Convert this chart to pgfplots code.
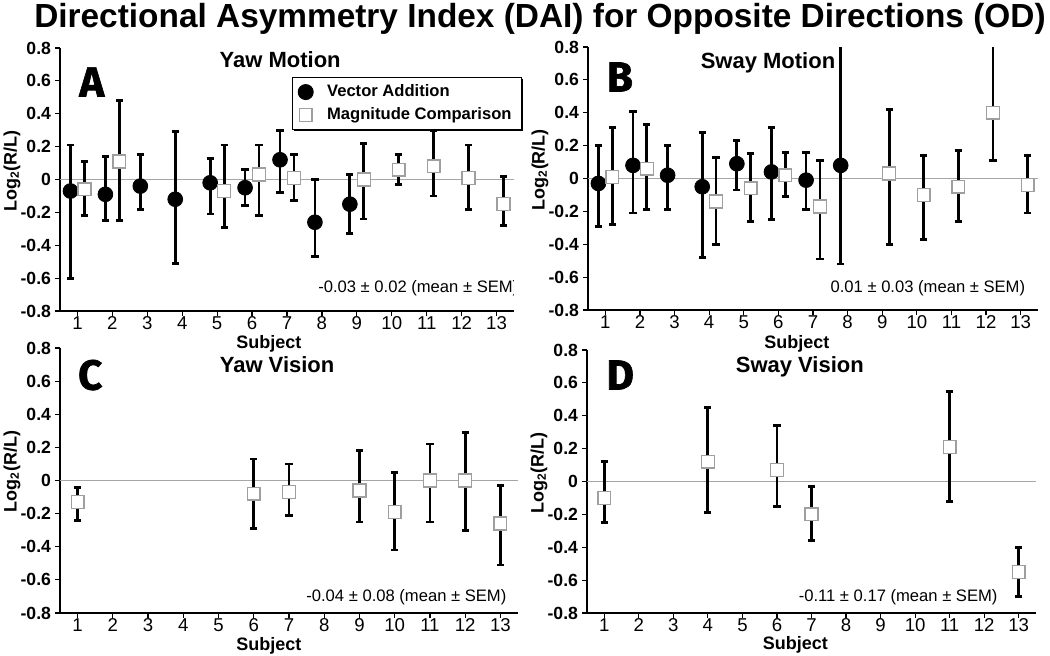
\documentclass[border=0pt]{standalone}
\usepackage{fontspec}
\setmainfont{Liberation Sans}
\newfontfamily\letterfont{Fira Sans}[BoldFeatures={FakeBold=1.5}]
\usepackage{pgfplots}
\usepackage{pgfplotstable}
\pgfplotsset{compat=1.18}
\usetikzlibrary{shadows}

% columns: x, value, error up, error down
\pgfplotstableread{
x y ep em
0.8 -0.07 0.28 0.53
1.8 -0.09 0.23 0.16
2.8 -0.04 0.19 0.14
3.8 -0.12 0.41 0.39
4.8 -0.02 0.15 0.19
5.8 -0.05 0.11 0.11
6.8 0.12 0.18 0.20
7.8 -0.26 0.26 0.21
8.8 -0.15 0.18 0.18
}\yawmotVA
\pgfplotstableread{
x y ep em
1.2 -0.06 0.17 0.16
2.2 0.11 0.37 0.36
5.2 -0.07 0.28 0.22
6.2 0.03 0.18 0.25
7.2 0.01 0.14 0.14
9.2 0.00 0.22 0.24
10.2 0.06 0.09 0.09
11.2 0.08 0.22 0.18
12.2 0.01 0.20 0.19
13.2 -0.15 0.17 0.13
}\yawmotMC
\pgfplotstableread{
x y ep em
0.8 -0.03 0.23 0.26
1.8 0.08 0.33 0.29
2.8 0.02 0.18 0.21
3.8 -0.05 0.33 0.43
4.8 0.09 0.14 0.16
5.8 0.04 0.27 0.29
6.8 -0.01 0.17 0.18
7.8 0.08 0.87 0.60
}\swaymotVA
\pgfplotstableread{
x y ep em
1.2 0.01 0.30 0.29
2.2 0.06 0.27 0.25
4.2 -0.14 0.27 0.26
5.2 -0.06 0.21 0.20
6.2 0.02 0.14 0.13
7.2 -0.17 0.28 0.32
9.2 0.03 0.39 0.43
10.2 -0.10 0.24 0.27
11.2 -0.05 0.22 0.21
12.2 0.40 0.50 0.29
13.2 -0.04 0.18 0.17
}\swaymotMC
\pgfplotstableread{
x y ep em
1 -0.13 0.09 0.11
6 -0.08 0.21 0.21
7 -0.07 0.17 0.14
9 -0.06 0.24 0.19
10 -0.19 0.24 0.23
11 0.00 0.22 0.25
12 0.00 0.29 0.30
13 -0.26 0.23 0.25
}\yawvisMC
\pgfplotstableread{
x y ep em
1 -0.10 0.22 0.15
4 0.12 0.33 0.31
6 0.07 0.27 0.22
7 -0.20 0.17 0.16
11 0.21 0.34 0.33
13 -0.55 0.15 0.15
}\swayvisMC

\pgfplotsset{
  dai/.style={
    scale only axis,
    xmin=0.5, xmax=13.5, ymin=-0.8, ymax=0.8,
    axis lines*=left,
    axis line style={black, line width=0.6pt},
    tick style={black, line width=0.6pt},
    tick align=outside,
    major tick length=2.5pt,
    xtick={1,...,13},
    ytick={-0.8,-0.6,-0.4,-0.2,0,0.2,0.4,0.6,0.8},
    yticklabels={-0.8,-0.6,-0.4,-0.2,0,0.2,0.4,0.6,0.8},
    /pgf/number format/assume math mode=true,
    xticklabel style={font=\fontsize{9.3}{10}\selectfont, text height=6.8pt, text depth=0pt,
      inner ysep=1pt, yshift=1.5pt},
    yticklabel style={font=\bfseries\fontsize{8.8}{10}\selectfont, xshift=1.5pt},
    xlabel={Subject},
    ylabel={Log\textsubscript{2}(R/L)},
    label style={font=\bfseries\fontsize{9}{10}\selectfont},
    xlabel style={inner sep=1pt},
    ylabel style={at={(axis description cs:0,0.533)}, yshift=24pt, anchor=center},
  },
  zero/.style={gray!70, line width=0.6pt, forget plot},
  va/.style={only marks, black, mark=*, mark size=3.7pt,
    mark options={fill=black, draw=black}},
  mc/.style={only marks, black, mark=square*, mark size=3.2pt,
    mark options={fill=white, draw=gray!75, line width=0.7pt}},
  ebar/.style={error bars/.cd, y dir=both, y explicit,
    error bar style={line width=1.4pt, black},
    error mark options={rotate=90, mark size=1.8pt, line width=1.4pt, black}},
}
\tikzset{
  ptitle/.style={font=\bfseries\fontsize{11}{12}\selectfont},
  pletter/.style={font=\letterfont\bfseries\fontsize{21}{22}\selectfont},
  meantxt/.style={font=\fontsize{8.3}{9}\selectfont, anchor=east},
}

\begin{document}
\begin{tikzpicture}
\useasboundingbox (0,0) rectangle (525pt,-327.5pt);

\node[anchor=base, font=\bfseries\fontsize{16.7}{20}\selectfont] at (270pt,-13.5pt)
  {Directional Asymmetry Index (DAI) for Opposite Directions (OD)};

% A
\begin{axis}[dai, at={(30pt,-155.5pt)}, anchor=south west, width=227pt, height=131.5pt,
  xlabel style={at={(axis description cs:0.46,-0.125)}, anchor=center},
  legend style={at={(1.018,0.89)}, anchor=north east, draw=black, line width=0.6pt,
    font=\bfseries\fontsize{8.3}{10.5}\selectfont, legend cell align=left,
    inner xsep=3pt, inner ysep=1.5pt,
    /tikz/every odd column/.append style={column sep=5pt},
    drop shadow={shadow xshift=0.9pt, shadow yshift=-0.9pt, fill=black, opacity=1}},
]
\addplot[zero] coordinates {(0.5,0) (13.5,0)};
\addplot[va, ebar] table[x=x, y=y, y error plus=ep, y error minus=em] {\yawmotVA};
\addplot[mc, ebar] table[x=x, y=y, y error plus=ep, y error minus=em] {\yawmotMC};
\legend{Vector Addition, Magnitude Comparison}
\node[ptitle] at (rel axis cs:0.485,0.954) {Yaw Motion};
\node[pletter] at (rel axis cs:0.07,0.871) {A};
\node[meantxt] at (rel axis cs:1.025,0.087) {-0.03 ± 0.02 (mean ± SEM)};
\end{axis}

% B
\begin{axis}[dai, at={(294pt,-155pt)}, anchor=south west, width=225pt, height=131.5pt,
  xlabel style={at={(axis description cs:0.464,-0.129)}, anchor=center},
]
\addplot[zero] coordinates {(0.5,0) (13.5,0)};
\addplot[va, ebar] table[x=x, y=y, y error plus=ep, y error minus=em] {\swaymotVA};
\addplot[mc, ebar] table[x=x, y=y, y error plus=ep, y error minus=em] {\swaymotMC};
\node[ptitle] at (rel axis cs:0.4,0.94) {Sway Motion};
\node[pletter] at (rel axis cs:0.071,0.886) {B};
\node[meantxt] at (rel axis cs:0.987,0.084) {0.01 ± 0.03 (mean ± SEM)};
\end{axis}

% C
\begin{axis}[dai, at={(30pt,-306.5pt)}, anchor=south west, width=229pt, height=132.5pt,
  xlabel style={at={(axis description cs:0.456,-0.123)}, anchor=center},
]
\addplot[zero] coordinates {(0.5,0) (13.5,0)};
\addplot[mc, ebar] table[x=x, y=y, y error plus=ep, y error minus=em] {\yawvisMC};
\node[ptitle] at (rel axis cs:0.474,0.936) {Yaw Vision};
\node[pletter] at (rel axis cs:0.066,0.898) {C};
\node[meantxt] at (rel axis cs:0.99,0.06) {-0.04 ± 0.08 (mean ± SEM)};
\end{axis}

% D
\begin{axis}[dai, at={(293.5pt,-306.5pt)}, anchor=south west, width=224.5pt, height=131.5pt,
  xlabel style={at={(axis description cs:0.464,-0.122)}, anchor=center},
]
\addplot[zero] coordinates {(0.5,0) (13.5,0)};
\addplot[mc, ebar] table[x=x, y=y, y error plus=ep, y error minus=em] {\swayvisMC};
\node[ptitle] at (rel axis cs:0.474,0.935) {Sway Vision};
\node[pletter] at (rel axis cs:0.074,0.905) {D};
\node[meantxt] at (rel axis cs:0.93,0.06) {-0.11 ± 0.17 (mean ± SEM)};
\end{axis}
\end{tikzpicture}
\end{document}
